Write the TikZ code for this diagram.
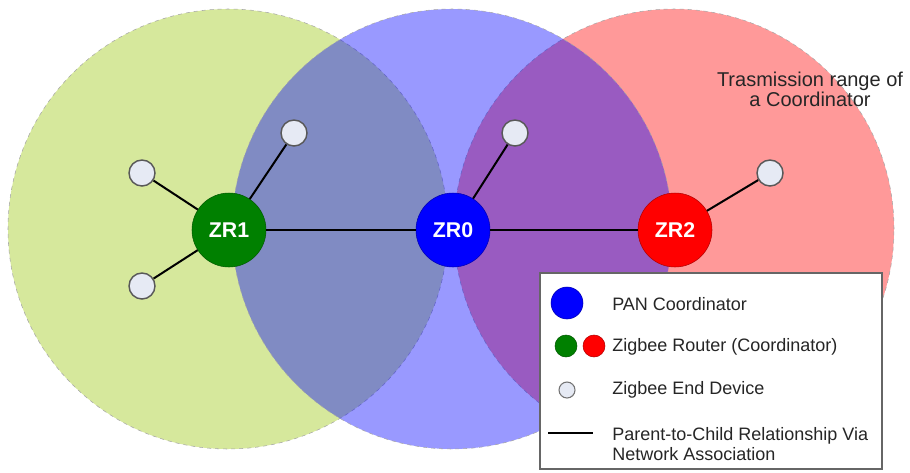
\documentclass[tikz,border=0pt]{standalone}
\usepackage{fontspec}
\setmainfont{Liberation Sans}
\usepackage{tikz}

\definecolor{rangegreen}{HTML}{D6E89C}
\definecolor{rangered}{HTML}{FF9999}
\definecolor{zbgreen}{HTML}{008000}
\definecolor{zbred}{HTML}{FF0000}
\definecolor{zbblue}{HTML}{0000FF}
\definecolor{enddev}{HTML}{E6EAF4}

\begin{document}
\begin{tikzpicture}[x=0.75pt,y=-0.75pt,
  rangecircle/.style={draw=black!35, dashed, thin},
  router/.style={circle, minimum size=55.5pt, inner sep=0pt, draw=#1!70!black, fill=#1,
    text=white, font=\fontsize{16}{19}\selectfont\bfseries},
  enddevice/.style={circle, minimum size=19.5pt, inner sep=0pt, draw=black!65,
    line width=1.1pt, fill=enddev},
  link/.style={line width=1.5pt, black},
  legendtext/.style={anchor=west, align=left, inner sep=0pt,
    font=\fontsize{13.5}{15}\selectfont, text=black!85}]
\useasboundingbox (0,0) rectangle (910,472);

\fill[rangegreen] (228,229) circle[radius=165pt];
\draw[rangecircle] (228,229) circle[radius=165pt];
\fill[rangered] (674,229) circle[radius=165pt];
\draw[rangecircle] (674,229) circle[radius=165pt];
\fill[zbblue, fill opacity=0.4] (452,229) circle[radius=165pt];
\draw[rangecircle] (452,229) circle[radius=165pt];

\foreach \n/\x/\c/\t in {zr1/229/zbgreen/ZR1, zr0/453/zbblue/ZR0, zr2/675/zbred/ZR2} {
\node[router=\c] (\n) at (\x,230) {\t};
}

\foreach \n/\x/\y in {ed1/142/173, ed2/294/133, ed3/142/286, ed4/515/133, ed5/770/173} {
\node[enddevice] (\n) at (\x,\y) {};
}

\foreach \a/\b in {zr1/zr0, zr0/zr2, zr1/ed1, zr1/ed2, zr1/ed3, zr0/ed4, zr2/ed5} {
\draw[link] (\a) -- (\b);
}

\node[align=center, inner sep=0pt, font=\fontsize{15}{13.5}\selectfont, text=black!85] (rangetext) at (810,89)
  {Trasmission range of\\a Coordinator};

\draw[fill=white, draw=black!60, line width=1pt] (540,273) rectangle (882,469);

\node[circle, minimum size=24pt, inner sep=0pt, fill=zbblue, draw=zbblue!70!black] (lpan) at (567,303) {};
\node[circle, minimum size=16.5pt, inner sep=0pt, fill=zbgreen, draw=zbgreen!70!black] (lzr1) at (566,346) {};
\node[circle, minimum size=16.5pt, inner sep=0pt, fill=zbred, draw=zbred!70!black] (lzr2) at (594,346) {};
\node[circle, minimum size=12pt, inner sep=0pt, fill=enddev, draw=black!55, line width=0.8pt] (led) at (567,390) {};
\coordinate (la) at (548,433);
\coordinate (lb) at (593,433);
\draw[link] (la) -- (lb);

\node[legendtext] (tpan) at (612,304) {PAN Coordinator};
\node[legendtext] (tzr) at (612,347) {Zigbee Router (Coordinator)};
\node[legendtext] (ted) at (612,390) {Zigbee End Device};
\node[legendtext] (tlink) at (612,444) {Parent-to-Child Relationship Via\\Network Association};

\end{tikzpicture}
\end{document}
